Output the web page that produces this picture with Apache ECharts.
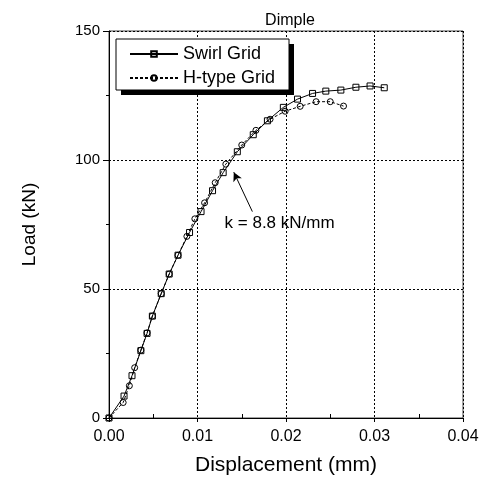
<!DOCTYPE html>
<html>
<head>
<meta charset="utf-8">
<script src="https://cdn.jsdelivr.net/npm/echarts@6/dist/echarts.min.js"></script>
<style>
  html, body { margin: 0; padding: 0; background: #fff; }
  #chart { width: 488px; height: 485px; }
</style>
</head>
<body>
<div id="chart"></div>
<script>
// 读图得到的数据
var swirlX = [0, 0.0017, 0.0026, 0.0036, 0.0043, 0.0049, 0.0059, 0.0068, 0.0078, 0.0091, 0.0104, 0.0117,
    0.0129, 0.0145, 0.0163, 0.0179, 0.0197, 0.0213, 0.0230, 0.0245, 0.0262, 0.0279, 0.0295, 0.0311];
var swirlY = [0, 8.5, 16.4, 26.1, 32.8, 39.5, 48.2, 55.8, 63.1, 71.9, 80.0, 88.1,
    95.1, 103.2, 109.8, 115.2, 120.4, 123.6, 125.8, 126.7, 127.1, 128.2, 128.7, 128.0];

var htypeX = [0, 0.0016, 0.0023, 0.0029, 0.0036, 0.0043, 0.0049, 0.0059, 0.0068, 0.0078, 0.0088, 0.0097,
    0.0108, 0.0120, 0.0132, 0.0150, 0.0166, 0.0182, 0.0199, 0.0216, 0.0234, 0.0250, 0.0265];
var htypeY = [0, 6.0, 12.5, 19.5, 26.3, 33.0, 39.5, 48.2, 55.8, 63.1, 70.4, 77.2,
    83.4, 91.2, 98.4, 105.8, 111.5, 115.8, 118.9, 120.8, 122.6, 122.6, 120.9];

// 注释箭头
var arrowFrom = [0.0162, 80.0];
var arrowTo = [0.0141, 95.3];
var noteText = 'k = 8.8 kN/mm';
var notePos = [0.0130, 75.5];

function pairs(xs, ys) {
    var out = [];
    for (var i = 0; i < xs.length; i++) {
        out.push([xs[i], ys[i]]);
    }
    return out;
}

var font = 'Liberation Sans, Arial, sans-serif';
var myChart = echarts.init(document.getElementById('chart'));

var option = {
    animation: false,
    title: {
        text: 'Dimple',
        left: 285,
        textAlign: 'center',
        top: 8,
        textStyle: { fontFamily: font, fontSize: 16, fontWeight: 'normal', color: '#000' }
    },
    // 图例外框和阴影
    graphic: [{
        type: 'rect',
        z: 3,
        shape: { x: 121, y: 44, width: 173, height: 51 },
        style: { fill: '#000' }
    }, {
        type: 'rect',
        z: 3,
        shape: { x: 116, y: 39, width: 173, height: 51 },
        style: { fill: '#fff', stroke: '#000', lineWidth: 1 }
    }],
    legend: {
        left: 129,
        top: 45,
        z: 10,
        orient: 'vertical',
        itemWidth: 48,
        itemHeight: 7,
        itemGap: 6,
        padding: 0,
        textStyle: { fontFamily: font, fontSize: 18, lineHeight: 18, color: '#000' },
        data: ['Swirl Grid', 'H-type Grid']
    },
    grid: {
        left: 109,
        right: 25,
        top: 31,
        bottom: 67,
        show: true,
        borderColor: '#444',
        borderWidth: 1
    },
    xAxis: [{
        type: 'value',
        min: 0,
        max: 0.04,
        interval: 0.01,
        name: 'Displacement (mm)',
        nameLocation: 'middle',
        nameGap: 37,
        nameTextStyle: { fontFamily: font, fontSize: 21, color: '#000' },
        axisLine: { lineStyle: { color: '#000' } },
        axisTick: { show: true, inside: false, length: 4, lineStyle: { color: '#000' } },
        axisLabel: {
            fontFamily: font, fontSize: 16, color: '#000', margin: 11,
            formatter: function (v) { return v.toFixed(2); }
        },
        splitLine: { show: true, lineStyle: { color: '#000', type: [2, 2], width: 1 } }
    }, {
        type: 'value',
        position: 'bottom',
        min: 0,
        max: 0.04,
        interval: 0.01,
        axisLine: { show: false },
        axisTick: { show: false, inside: true },
        minorTick: { show: true, splitNumber: 2, length: 4, lineStyle: { color: '#000' } },
        axisLabel: { show: false },
        splitLine: { show: false }
    }],
    yAxis: {
        type: 'value',
        min: 0,
        max: 150,
        interval: 50,
        name: 'Load (kN)',
        nameLocation: 'middle',
        nameGap: 70,
        nameTextStyle: { fontFamily: font, fontSize: 19, color: '#000' },
        axisLine: { lineStyle: { color: '#000' } },
        axisTick: { show: true, inside: false, length: 6, lineStyle: { color: '#000' } },
        minorTick: { show: true, splitNumber: 2, length: 3, lineStyle: { color: '#000' } },
        axisLabel: { fontFamily: font, fontSize: 15, color: '#000', margin: 9 },
        splitLine: { show: true, lineStyle: { color: '#000', type: [2, 2], width: 1 } }
    },
    series: [{
        name: 'Swirl Grid',
        type: 'line',
        data: pairs(swirlX, swirlY),
        symbol: 'rect',
        symbolSize: 6,
        showAllSymbol: true,
        lineStyle: { color: '#000', width: 1 },
        itemStyle: { color: 'rgba(255,255,255,0)', borderColor: '#000', borderWidth: 1 },
        z: 2,
        markLine: {
            silent: true,
            symbol: ['none', 'arrow'],
            symbolSize: [7, 9],
            label: { show: false },
            lineStyle: { color: '#000', width: 1, type: 'solid' },
            data: [[{ coord: arrowFrom }, { coord: arrowTo }]]
        },
        markPoint: {
            silent: true,
            symbol: 'circle',
            symbolSize: 1,
            itemStyle: { color: 'rgba(0,0,0,0)' },
            label: {
                show: true,
                position: 'right',
                distance: 0,
                formatter: noteText,
                fontFamily: font,
                fontSize: 17,
                color: '#000'
            },
            data: [{ coord: notePos }]
        }
    }, {
        name: 'H-type Grid',
        type: 'line',
        data: pairs(htypeX, htypeY),
        symbol: 'circle',
        symbolSize: 6,
        showAllSymbol: true,
        lineStyle: { color: '#000', width: 1, type: [3, 2] },
        itemStyle: { color: 'rgba(255,255,255,0)', borderColor: '#000', borderWidth: 1 },
        z: 2
    }]
};
myChart.setOption(option);
</script>
</body>
</html>
